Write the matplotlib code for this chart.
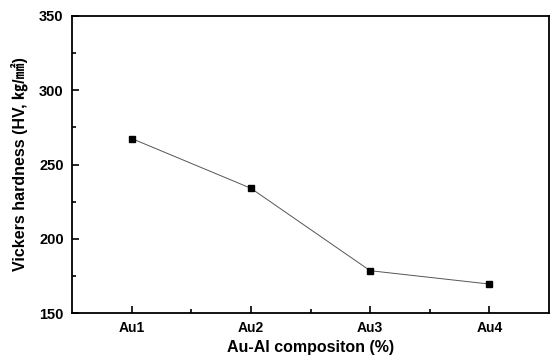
import numpy as np
import matplotlib.pyplot as plt
from matplotlib.ticker import MultipleLocator, FixedLocator

plt.rcParams['font.family'] = ['Liberation Sans', 'Noto Sans CJK KR', 'DejaVu Sans']

# данные
samples = ["Au1", "Au2", "Au3", "Au4"]
hardness = [267.5, 234, 178.5, 169.5]

x = np.arange(1, len(samples) + 1)

fig = plt.figure(figsize=(5.51, 3.57), dpi=100)
ax = fig.add_axes([0.1307, 0.1232, 0.8657, 0.832])

ax.plot(x, hardness, color="#555555", lw=0.7, marker="s", ms=4.5,
        mfc="black", mec="black")

ax.set_xlim(0.5, 4.5)
ax.set_ylim(150, 350)
ax.set_xticks(x)
ax.set_xticklabels(samples, fontweight="bold", fontsize=10)
ax.xaxis.set_minor_locator(FixedLocator([1.5, 2.5, 3.5]))
ax.yaxis.set_major_locator(MultipleLocator(50))
ax.yaxis.set_minor_locator(MultipleLocator(25))
for lbl in ax.get_yticklabels():
    lbl.set_fontweight("bold")
    lbl.set_fontsize(10.5)

ax.tick_params(which="both", direction="in", width=1.2, top=False, right=False)
ax.tick_params(which="major", length=5, pad=6)
ax.tick_params(which="minor", length=3)
for s in ax.spines.values():
    s.set_linewidth(1.3)

ax.set_xlabel("Au-Al compositon (%)", fontsize=11.5, fontweight="bold", labelpad=3)
ax.set_ylabel("Vickers hardness (HV, ㎏/㎟)", fontsize=11.5, fontweight="bold", labelpad=8)

fig.savefig("out.png", dpi=100)
